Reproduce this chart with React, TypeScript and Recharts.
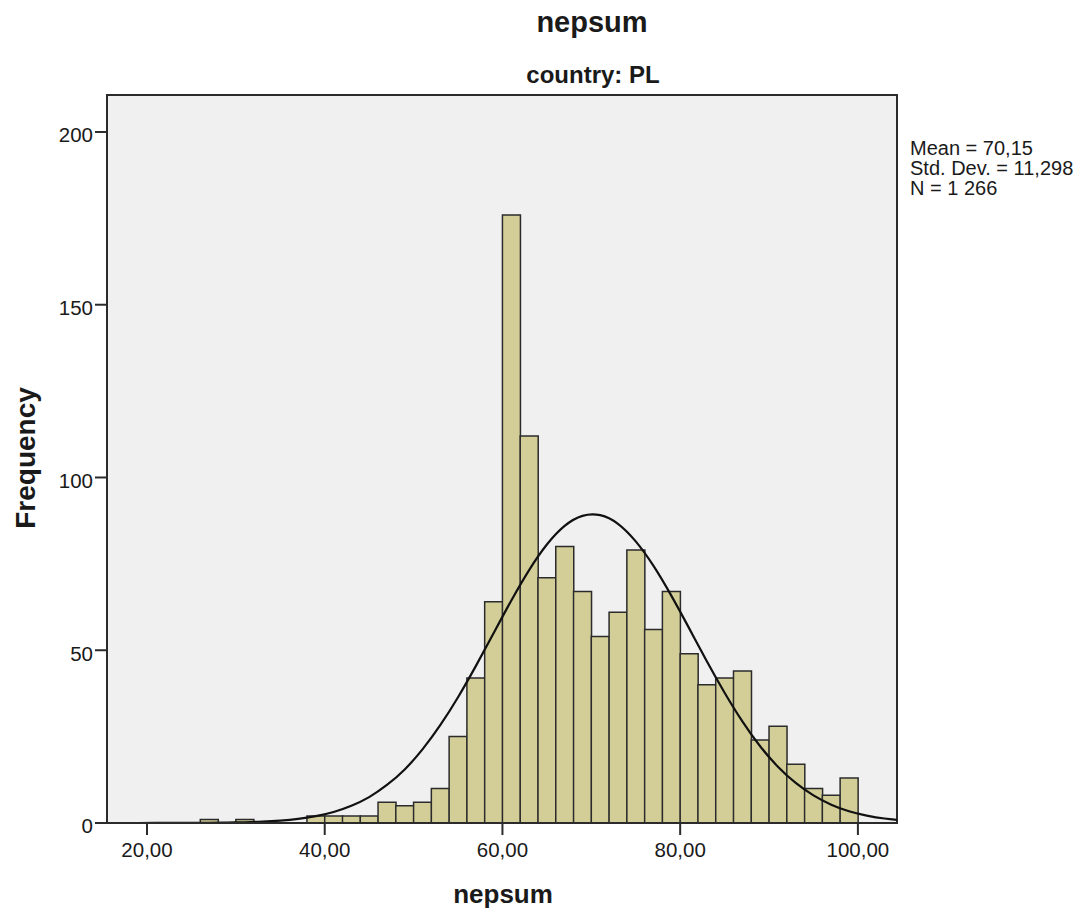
import {
  Bar,
  CartesianGrid,
  ComposedChart,
  Line,
  ReferenceArea,
  XAxis,
  YAxis,
} from 'recharts';

// bin centres (bin width 2)
const binCenters = [
  15, 17, 19, 21, 23, 25, 27, 29, 31, 33, 35, 37, 39, 41, 43, 45, 47, 49, 51, 53, 55, 57, 59,
  61, 63, 65, 67, 69, 71, 73, 75, 77, 79, 81, 83, 85, 87, 89, 91, 93, 95, 97, 99, 101, 103, 105,
];

const frequencies = [
  0, 0, 0, 0, 0, 0, 1, 0, 1, 0, 0, 0, 2, 2, 2, 2, 6, 5, 6, 10, 25, 42, 64,
  176, 112, 71, 80, 67, 54, 61, 79, 56, 67, 49, 40, 42, 44, 24, 28, 17, 10, 8, 13, 0, 0, 0,
];

// normal curve height at each bin centre
const normalCurve = [
  0, 0, 0, 0.01, 0.02, 0.03, 0.06, 0.12, 0.22, 0.4, 0.71, 1.2, 2.0, 3.2, 5.0, 7.5, 11.0, 15.5,
  21.3, 28.3, 36.4, 45.4, 54.9, 64.4, 73.2, 80.6, 86.0, 88.9, 89.1, 86.6, 81.5, 74.4, 65.8, 56.4,
  46.8, 37.7, 29.4, 22.2, 16.3, 11.6, 8.0, 5.3, 3.4, 2.15, 1.3, 0.77,
];

const xTicks = [20, 40, 60, 80, 100];
const yTicks = [0, 50, 100, 150, 200];

const statLines = ['Mean = 70,15', 'Std. Dev. = 11,298', 'N = 1 266'];

const xDomain: [number, number] = [15.5, 104.4];
const yDomain: [number, number] = [0, 210.7];

const chartData = binCenters.map((x, i) => ({
  x,
  freq: frequencies[i],
  curve: normalCurve[i],
}));

const FONT = '"Liberation Sans", Arial, sans-serif';
const INK = '#1a1a1a';

export default function App() {
  return (
    <div style={{ position: 'absolute', left: 0, top: 0, width: 1091, height: 916, background: '#fff' }}>
      <ComposedChart
        width={1091}
        height={916}
        data={chartData}
        barCategoryGap={0}
        barGap={0}
        margin={{ top: 95, right: 194, bottom: 53, left: 47 }}
      >
        <CartesianGrid fill="#f0f0f0" stroke="none" horizontal={false} vertical={false} />
        <XAxis
          dataKey="x"
          type="number"
          domain={xDomain}
          allowDataOverflow
          ticks={xTicks}
          height={40}
          tickSize={12}
          tickMargin={7}
          axisLine={{ stroke: '#2b2b2b', strokeWidth: 2 }}
          tickLine={{ stroke: '#2b2b2b', strokeWidth: 2 }}
          tick={{ fill: INK, fontSize: 20.5, fontFamily: FONT }}
          tickFormatter={(v: number) => v.toFixed(2).replace('.', ',')}
        />
        <YAxis
          type="number"
          domain={yDomain}
          allowDataOverflow
          ticks={yTicks}
          width={60}
          tickSize={12}
          tickMargin={2}
          axisLine={{ stroke: '#2b2b2b', strokeWidth: 2 }}
          tickLine={{ stroke: '#2b2b2b', strokeWidth: 2 }}
          tick={{ fill: INK, fontSize: 20.5, fontFamily: FONT, dy: 3 }}
        />
        <Bar dataKey="freq" fill="#d3ce98" stroke="#2b2b2b" strokeWidth={1.5} isAnimationActive={false} />
        <Line
          dataKey="curve"
          type="natural"
          stroke="#111"
          strokeWidth={2.2}
          dot={false}
          activeDot={false}
          isAnimationActive={false}
        />
        <ReferenceArea
          x1={xDomain[0]}
          x2={xDomain[1]}
          y1={yDomain[0]}
          y2={yDomain[1]}
          fill="none"
          stroke="#2b2b2b"
          strokeWidth={2}
          ifOverflow="visible"
        />
      </ComposedChart>
      <svg
        width={1091}
        height={916}
        style={{ position: 'absolute', left: 0, top: 0, pointerEvents: 'none' }}
        fontFamily={FONT}
        fill={INK}
      >
        <text x={592} y={32} textAnchor="middle" fontSize={29} fontWeight="bold">nepsum</text>
        <text x={593} y={83} textAnchor="middle" fontSize={24} fontWeight="bold">country: PL</text>
        <text x={503} y={903} textAnchor="middle" fontSize={26} fontWeight="bold">nepsum</text>
        <text
          x={35}
          y={458}
          textAnchor="middle"
          fontSize={28}
          fontWeight="bold"
          transform="rotate(-90, 35, 458)"
        >
          Frequency
        </text>
        {statLines.map((s, i) => (
          <text key={s} x={910} y={155 + i * 20} fontSize={20}>
            {s}
          </text>
        ))}
      </svg>
    </div>
  );
}
